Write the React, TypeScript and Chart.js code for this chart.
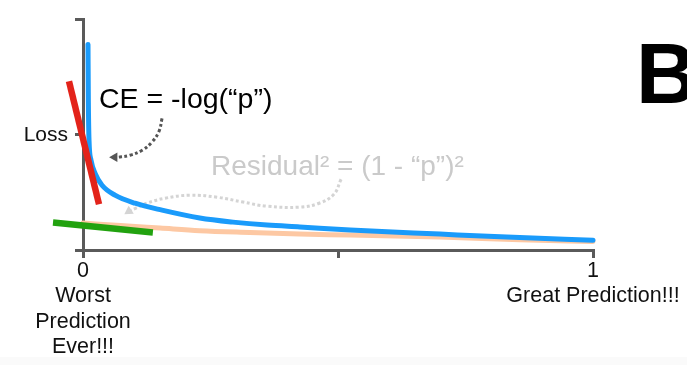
import React, { useEffect, useRef } from "react";
import { Chart, registerables } from "chart.js";

Chart.register(...registerables);

// ---- axis ticks ----
const xTickValues = [0, 0.5, 1];
const xTickLabels: (string | string[])[] = [
  ["0", "Worst", "Prediction", "Ever!!!"],
  "",
  ["1", "Great Prediction!!!"],
];
const yTickValues = [0, 5, 10];
const yTickLabels = ["", "Loss", ""];

// ---- cross entropy curve (blue) ----
const ceP = [0.0098, 0.0105, 0.0118, 0.0157, 0.0235, 0.0373, 0.0627, 0.102, 0.155, 0.229, 0.294, 0.361, 0.425, 0.524, 0.7, 0.831, 1.0];
const ceLoss = [8.92, 6.49, 4.76, 3.9, 3.33, 2.81, 2.38, 2.03, 1.73, 1.39, 1.21, 1.08, 1.0, 0.87, 0.69, 0.56, 0.42];

// ---- squared residual curve (peach) ----
const sqP = [0, 0.073, 0.151, 0.229, 0.327, 0.425, 0.524, 0.7, 0.857, 1.0];
const sqLoss = [1.17, 1.06, 0.95, 0.84, 0.76, 0.69, 0.65, 0.56, 0.45, 0.37];

// ---- tangent lines ----
const redP = [-0.0275, 0.0314];
const redLoss = [7.32, 1.99];
const greenP = [-0.0588, 0.137];
const greenLoss = [1.19, 0.76];

// ---- annotation arrows ----
const ceArrowP = [0.155, 0.149, 0.135, 0.116, 0.092, 0.07, 0.062];
const ceArrowLoss = [5.71, 5.15, 4.68, 4.33, 4.11, 4.03, 4.03];
const resArrowP = [0.506, 0.492, 0.463, 0.425, 0.361, 0.314, 0.263, 0.21, 0.161, 0.125, 0.104, 0.09];
const resArrowLoss = [3.07, 2.42, 2.03, 1.86, 1.9, 2.08, 2.29, 2.38, 2.25, 2.03, 1.82, 1.68];

const ceLabel = "CE = -log(\u201Cp\u201D)";
const residualLabel = "Residual\u00B2 = (1 - \u201Cp\u201D)\u00B2";
const panelLabel = "B";

const FONT = '"Liberation Sans", Arial, Helvetica, sans-serif';
const AXIS = "#5a5a5a";

const zip = (xs: number[], ys: number[]) => xs.map((x, i) => ({ x, y: ys[i] }));
const lastOnly = (n: number, v: number) => Array.from({ length: n }, (_, i) => (i === n - 1 ? v : 0));

const decorPlugin = {
  id: "decor",
  beforeDraw(chart: any) {
    const ctx = chart.ctx;
    ctx.save();
    ctx.fillStyle = "#ffffff";
    ctx.fillRect(0, 0, chart.width, chart.height);
    ctx.fillStyle = "#fafafa";
    ctx.fillRect(0, 357, chart.width, chart.height - 357);
    ctx.restore();
  },
  afterDraw(chart: any) {
    const ctx = chart.ctx;
    ctx.save();
    ctx.textAlign = "left";
    ctx.textBaseline = "alphabetic";
    ctx.font = `28.5px ${FONT}`;
    ctx.fillStyle = "#000000";
    ctx.fillText(ceLabel, 99, 108);
    ctx.font = `28px ${FONT}`;
    ctx.fillStyle = "#cacaca";
    ctx.fillText(residualLabel, 211, 175);
    ctx.font = `bold 85px ${FONT}`;
    ctx.fillStyle = "#000000";
    ctx.fillText(panelLabel, 636, 103);
    ctx.restore();
  },
};

export default function App() {
  const ref = useRef<HTMLCanvasElement>(null);
  useEffect(() => {
    if (!ref.current) return;
    const chart = new Chart(ref.current, {
      type: "line",
      data: {
        datasets: [
          {
            data: zip(redP, redLoss),
            borderColor: "#e3231a",
            borderWidth: 6.5,
            pointRadius: 0,
            borderCapStyle: "butt",
            clip: false as any,
            order: 0,
          },
          {
            data: zip(greenP, greenLoss),
            borderColor: "#22a20f",
            borderWidth: 6.5,
            pointRadius: 0,
            borderCapStyle: "butt",
            clip: false as any,
            order: 1,
          },
          {
            data: zip(ceP, ceLoss),
            borderColor: "#1a9bfb",
            borderWidth: 5,
            pointRadius: 0,
            cubicInterpolationMode: "monotone",
            borderCapStyle: "round",
            borderJoinStyle: "round",
            clip: false as any,
            order: 2,
          },
          {
            data: zip(sqP, sqLoss),
            borderColor: "#fdc8a3",
            borderWidth: 5,
            pointRadius: 0,
            cubicInterpolationMode: "monotone",
            borderCapStyle: "round",
            clip: false as any,
            order: 3,
          },
          {
            data: zip(ceArrowP, ceArrowLoss),
            borderColor: "#555555",
            backgroundColor: "#555555",
            borderWidth: 3,
            borderDash: [3, 2.5],
            tension: 0.4,
            pointStyle: "triangle",
            pointRadius: lastOnly(ceArrowP.length, 5.5),
            pointRotation: lastOnly(ceArrowP.length, 270),
            pointBackgroundColor: "#555555",
            pointBorderWidth: 0,
            clip: false as any,
            order: 4,
          },
          {
            data: zip(resArrowP, resArrowLoss),
            borderColor: "#d4d4d4",
            backgroundColor: "#d4d4d4",
            borderWidth: 3,
            borderDash: [3, 2.5],
            tension: 0.4,
            pointStyle: "triangle",
            pointRadius: lastOnly(resArrowP.length, 5.5),
            pointRotation: lastOnly(resArrowP.length, 237),
            pointBackgroundColor: "#d4d4d4",
            pointBorderWidth: 0,
            clip: false as any,
            order: 5,
          },
        ] as any,
      },
      options: {
        animation: false,
        responsive: false,
        devicePixelRatio: 1,
        events: [],
        layout: { padding: { top: 19, right: 94, bottom: 0, left: 0 } },
        plugins: {
          legend: { display: false },
          tooltip: { enabled: false },
          title: { display: false },
        },
        scales: {
          x: {
            type: "linear",
            min: 0,
            max: 1,
            afterBuildTicks: (axis: any) => {
              axis.ticks = xTickValues.map((v) => ({ value: v }));
            },
            afterFit: (scale: any) => {
              scale.height = 115;
            },
            grid: {
              display: true,
              drawOnChartArea: false,
              drawTicks: true,
              tickLength: 8,
              color: AXIS,
              lineWidth: 3,
            },
            border: { display: true, color: AXIS, width: 3 },
            ticks: {
              autoSkip: false,
              maxRotation: 0,
              minRotation: 0,
              padding: 0,
              color: "#111111",
              font: { family: FONT, size: 21.5, lineHeight: 1.19 },
              callback: (_v: any, i: number) => xTickLabels[i] as any,
            },
          },
          y: {
            type: "linear",
            min: 0,
            max: 10,
            afterBuildTicks: (axis: any) => {
              axis.ticks = yTickValues.map((v) => ({ value: v }));
            },
            afterFit: (scale: any) => {
              scale.width = 83;
            },
            grid: {
              display: true,
              drawOnChartArea: false,
              drawTicks: true,
              tickLength: 8,
              color: AXIS,
              lineWidth: 3,
            },
            border: { display: true, color: AXIS, width: 3 },
            ticks: {
              autoSkip: false,
              padding: 7,
              color: "#111111",
              font: { family: FONT, size: 21 },
              callback: (_v: any, i: number) => yTickLabels[i],
            },
          },
        },
      } as any,
      plugins: [decorPlugin],
    });
    return () => chart.destroy();
  }, []);

  return (
    <div style={{ position: "absolute", left: 0, top: 0, width: 687, height: 365 }}>
      <canvas ref={ref} width={687} height={365} style={{ display: "block", width: 687, height: 365 }} />
    </div>
  );
}
